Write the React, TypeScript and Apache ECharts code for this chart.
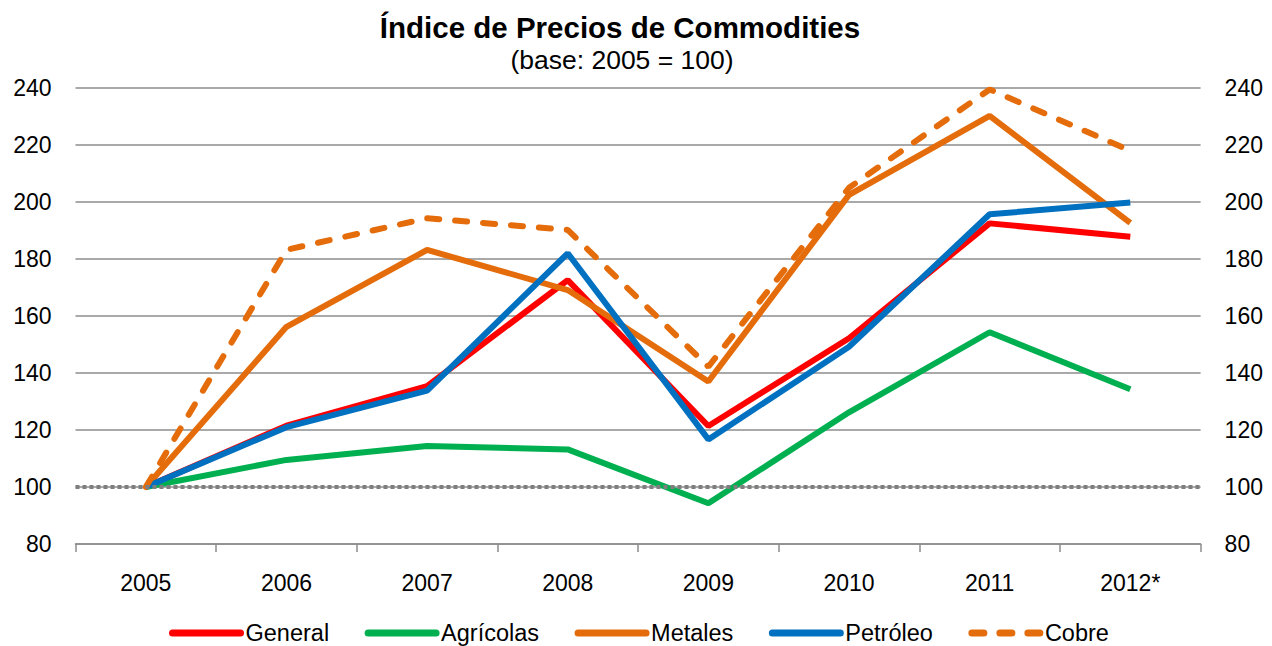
import React, { useEffect, useRef } from "react";
import * as echarts from "echarts";

const categories = ["2005", "2006", "2007", "2008", "2009", "2010", "2011", "2012*"];
const general = [100, 121.5, 135.4, 172.6, 121.4, 152.2, 192.5, 187.8];
const agricolas = [100, 109.5, 114.4, 113.2, 94.3, 126.2, 154.3, 134.3];
const metales = [100, 156.2, 183.2, 169.1, 137, 202.5, 230.2, 192.7];
const petroleo = [100, 121, 133.8, 182, 116.7, 149.2, 195.7, 199.8];
const cobre = [100, 183.2, 194.3, 190.2, 142.2, 205, 239.5, 218];
const baseLine = 100;

const FONT = "'Liberation Sans', Arial, sans-serif";

export default function App() {
  const ref = useRef<HTMLDivElement>(null);
  useEffect(() => {
    if (!ref.current) return;
    const chart = echarts.init(ref.current, null, { renderer: "svg" });
    const yAxisCommon = {
      type: "value" as const,
      min: 80,
      max: 240,
      interval: 20,
      axisLine: { show: false },
      axisTick: { show: false },
      axisLabel: { fontSize: 23, color: "#000", fontFamily: FONT, margin: 24 },
    };
    const mk = (name: string, data: number[], color: string, dashed = false) => ({
      name,
      type: "line" as const,
      data,
      symbol: "none",
      showSymbol: false,
      smooth: false,
      lineStyle: dashed
        ? { color, width: 6, type: [12, 16], cap: "round" as const }
        : { color, width: 6 },
      itemStyle: { color },
    });
    chart.setOption({
      animation: false,
      backgroundColor: "#fff",
      graphic: [
        {
          type: "text",
          x: 620,
          y: 27,
          style: {
            text: "Índice de Precios de Commodities",
            fontSize: 29.5,
            fontWeight: "bold",
            fontFamily: FONT,
            fill: "#000",
            textAlign: "center",
            textVerticalAlign: "middle",
          },
        },
        {
          type: "text",
          x: 622,
          y: 60,
          style: {
            text: "(base: 2005 = 100)",
            fontSize: 26.5,
            fontFamily: FONT,
            fill: "#000",
            textAlign: "center",
            textVerticalAlign: "middle",
          },
        },
      ],
      grid: { left: 75.5, right: 71.4, top: 88, bottom: 102, containLabel: false },
      legend: {
        top: 616,
        left: 164,
        itemWidth: 68,
        itemHeight: 14,
        itemGap: 35.5,
        itemStyle: { opacity: 0 },
        lineStyle: { width: 7, cap: "round" },
        textStyle: { fontSize: 23.5, color: "#000", fontFamily: FONT },
        data: ["General", "Agrícolas", "Metales", "Petróleo", "Cobre"],
      },
      xAxis: {
        type: "category",
        data: categories,
        boundaryGap: true,
        axisLine: { lineStyle: { color: "#8c8c8c", width: 1.5 } },
        axisTick: { show: true, length: 8, lineStyle: { color: "#8c8c8c", width: 1.5 } },
        axisLabel: { fontSize: 23, color: "#000", fontFamily: FONT, margin: 27 },
        splitLine: { show: false },
      },
      yAxis: [
        {
          ...yAxisCommon,
          position: "left",
          splitLine: { show: true, lineStyle: { color: "#8c8c8c", width: 1.5 } },
        },
        {
          ...yAxisCommon,
          position: "right",
          splitLine: { show: false },
        },
      ],
      series: [
        {
          ...mk("General", general, "#FF0000"),
          markLine: {
            silent: true,
            symbol: "none",
            label: { show: false },
            lineStyle: { color: "#7f7f7f", width: 4, type: [4, 3], opacity: 1 },
            data: [{ yAxis: baseLine }],
          },
        },
        mk("Agrícolas", agricolas, "#00B050"),
        mk("Metales", metales, "#E46C0A"),
        mk("Petróleo", petroleo, "#0070C0"),
        mk("Cobre", cobre, "#E46C0A", true),
      ],
    });
    return () => chart.dispose();
  }, []);
  return (
    <div
      ref={ref}
      style={{ position: "fixed", left: 0, top: 0, width: 1272, height: 646, background: "#fff" }}
    />
  );
}
